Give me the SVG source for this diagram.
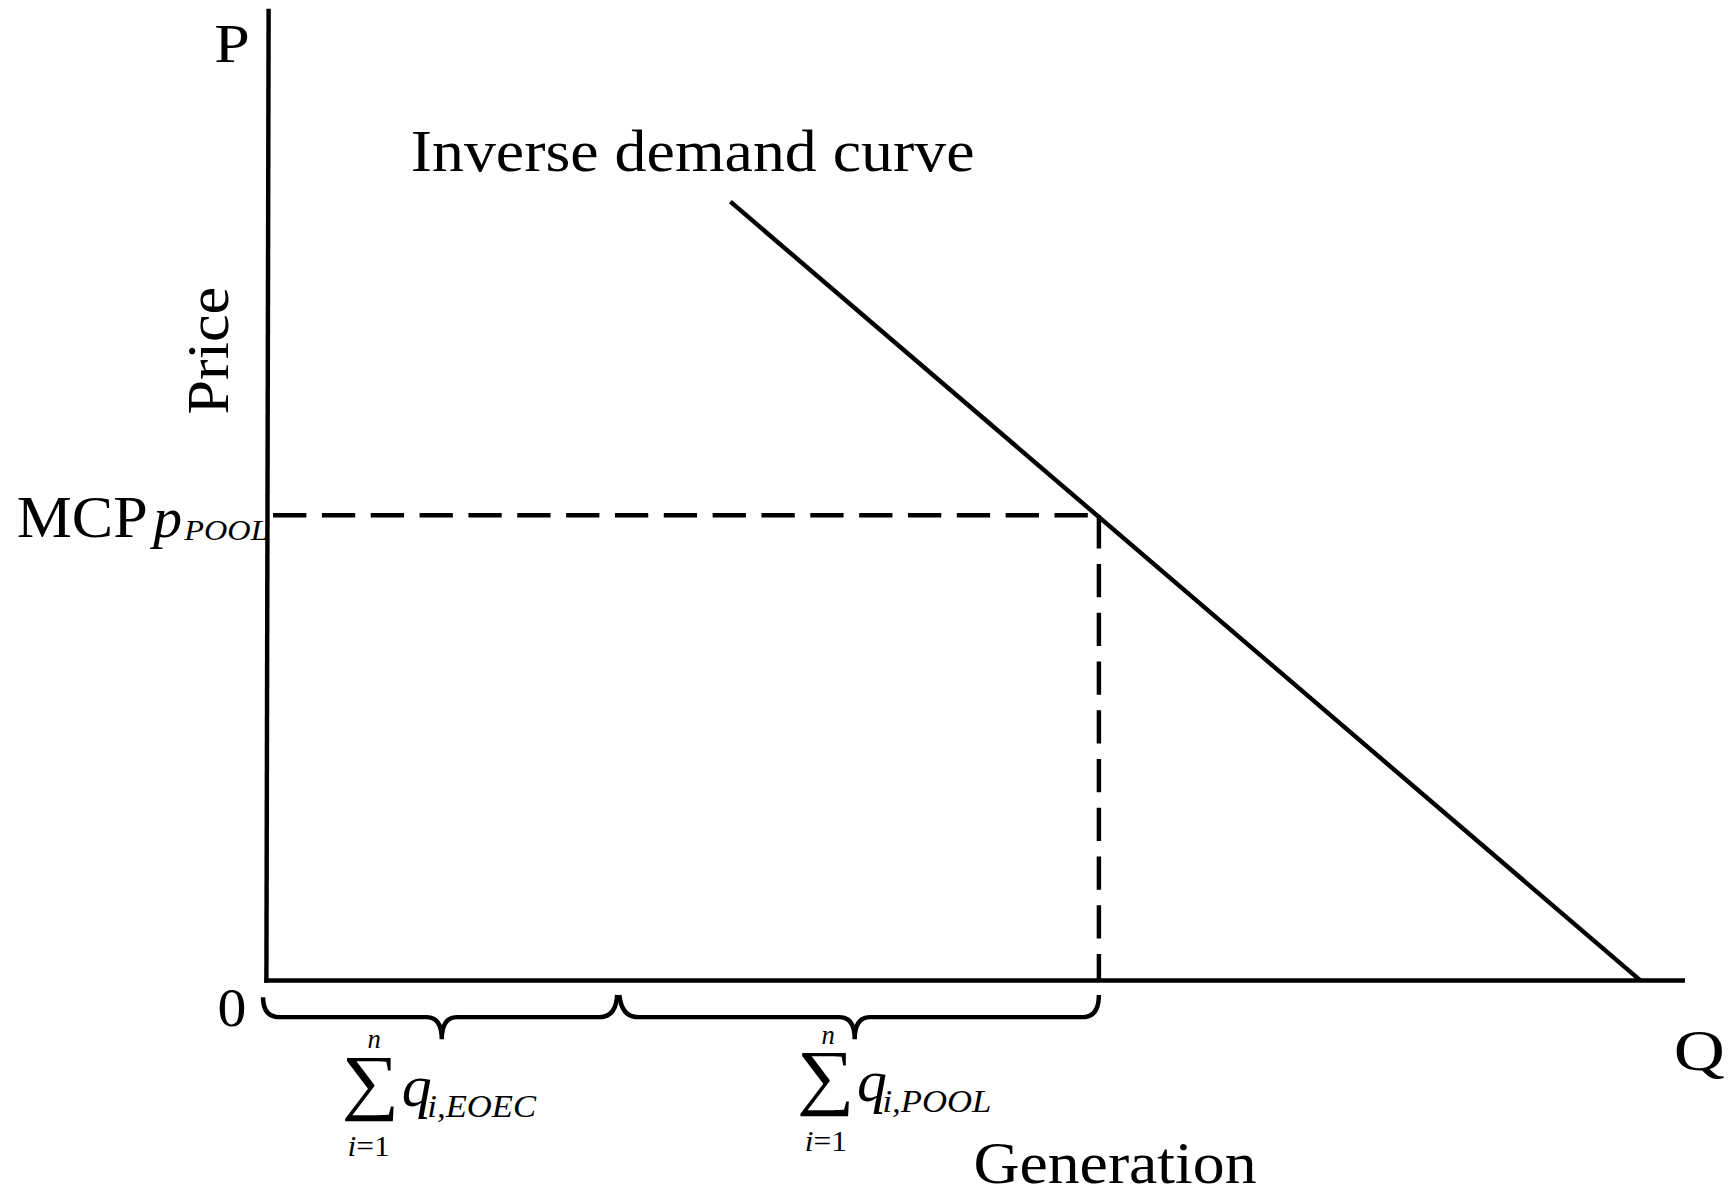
<svg xmlns="http://www.w3.org/2000/svg" width="1735" height="1197" viewBox="0 0 1735 1197">
<style>
.t{font-family:"Liberation Serif","Times New Roman",serif;fill:#000}
.i{font-style:italic}
.ln{stroke:#000;fill:none;stroke-width:4}
.d{stroke:#000;fill:none;stroke-width:4;stroke-dasharray:30,14}
</style>
<rect width="1735" height="1197" fill="#fff"/>
<g transform="scale(1.11,1.108)">
<g id="connectors">
<line class="ln" x1="242" y1="8" x2="240" y2="887"/>
<line class="ln" x1="238" y1="885" x2="1518" y2="885"/>
<line class="ln" x1="658" y1="182" x2="1478" y2="885"/>
<line class="d" x1="246" y1="465" x2="990" y2="465"/>
<line class="d" x1="990" y1="465" x2="990" y2="885"/>
<path class="ln" d="M237,900 Q237,918 252,918 L384,918 Q398,918 398,938 Q398,918 412,918 L540,918 Q555,918 556,898"/>
<path class="ln" d="M558,898 Q560,918 575,918 L756,918 Q770,918 770,938 Q770,918 784,918 L975,918 Q990,918 990,898"/>
</g>
<g id="labels">
<text class="t" x="193" y="56" font-size="50" textLength="32" lengthAdjust="spacingAndGlyphs">P</text>
<text class="t" x="0" y="0" font-size="54" textLength="115" lengthAdjust="spacingAndGlyphs" transform="translate(205,374) rotate(-90)">Price</text>
<text class="t" x="370" y="154" font-size="54" textLength="508" lengthAdjust="spacingAndGlyphs">Inverse demand curve</text>
<text class="t" x="15" y="485" font-size="54" textLength="118" lengthAdjust="spacingAndGlyphs">MCP</text>
<text class="t i" x="138" y="485" font-size="52">p</text>
<text class="t i" x="166" y="487" font-size="26" textLength="76" lengthAdjust="spacingAndGlyphs">POOL</text>
<text class="t" x="196" y="926" font-size="50" textLength="26" lengthAdjust="spacingAndGlyphs">0</text>
<text class="t" x="1508" y="966" font-size="52" textLength="46" lengthAdjust="spacingAndGlyphs">Q</text>
<text class="t" x="877" y="1068" font-size="54" textLength="255" lengthAdjust="spacingAndGlyphs">Generation</text>
<text class="t i" x="331" y="946" font-size="24">n</text>
<text class="t" x="308" y="998" font-size="66" textLength="52" lengthAdjust="spacingAndGlyphs">∑</text>
<text class="t i" x="362" y="998" font-size="54">q</text>
<text class="t i" x="385" y="1008" font-size="28" textLength="98" lengthAdjust="spacingAndGlyphs">i,EOEC</text>
<text class="t" x="313" y="1043" font-size="26" textLength="38" lengthAdjust="spacingAndGlyphs"><tspan font-style="italic">i</tspan>=1</text>
<text class="t i" x="740" y="942" font-size="24">n</text>
<text class="t" x="718" y="994" font-size="66" textLength="52" lengthAdjust="spacingAndGlyphs">∑</text>
<text class="t i" x="772" y="994" font-size="54">q</text>
<text class="t i" x="795" y="1004" font-size="28" textLength="98" lengthAdjust="spacingAndGlyphs">i,POOL</text>
<text class="t" x="725" y="1039" font-size="26" textLength="38" lengthAdjust="spacingAndGlyphs"><tspan font-style="italic">i</tspan>=1</text>
</g>
</g>
</svg>
